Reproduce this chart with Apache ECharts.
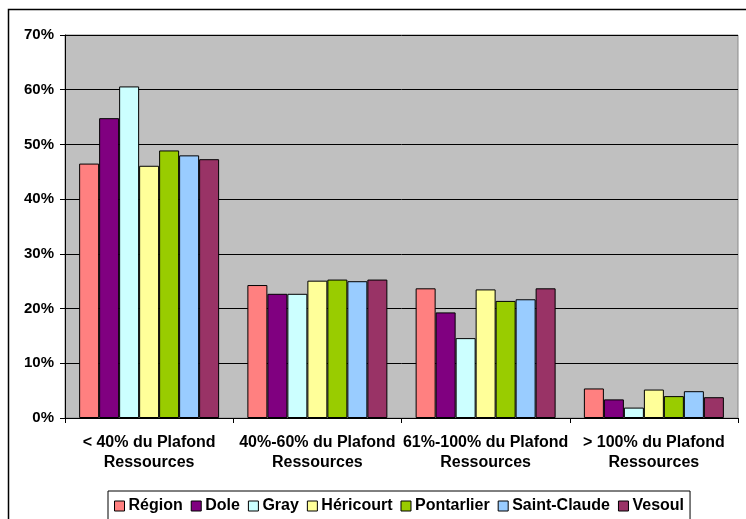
<!DOCTYPE html>
<html>
<head>
<meta charset="utf-8">
<script src="https://cdn.jsdelivr.net/npm/echarts@6/dist/echarts.min.js"></script>
<style>
html,body{margin:0;padding:0;background:#fff;}
#c{width:746px;height:519px;}
</style>
</head>
<body>
<div id="c"></div>
<script>
const categories = ['< 40% du Plafond\nRessources', '40%-60% du Plafond\nRessources', '61%-100% du Plafond\nRessources', '> 100% du Plafond\nRessources'];
const seriesNames = ['Région', 'Dole', 'Gray', 'Héricourt', 'Pontarlier', 'Saint-Claude', 'Vesoul'];
const region      = [46.5, 24.3, 23.7, 5.4];
const dole        = [54.8, 22.7, 19.3, 3.4];
const gray        = [60.6, 22.7, 14.6, 1.9];
const hericourt   = [46.1, 25.1, 23.5, 5.2];
const pontarlier  = [48.9, 25.3, 21.4, 4.0];
const saintClaude = [48.0, 25.0, 21.7, 4.9];
const vesoul      = [47.3, 25.3, 23.7, 3.8];
const yTicks = [0, 10, 20, 30, 40, 50, 60, 70];

const values = [region, dole, gray, hericourt, pontarlier, saintClaude, vesoul];
const colors = ['#FF8080', '#800080', '#CCFFFF', '#FFFF99', '#99CC00', '#99CCFF', '#993366'];
const FONT = "'Liberation Sans', Arial, sans-serif";

const chart = echarts.init(document.getElementById('c'));
chart.setOption({
  animation: false,
  backgroundColor: '#fff',
  graphic: [{
    type: 'rect', silent: true, z: 100,
    shape: {x: 8.5, y: 9.5, width: 800, height: 600},
    style: {fill: 'none', stroke: '#000', lineWidth: 1.5}
  }],
  grid: {
    left: 65, right: 8, top: 35, bottom: 101,
    show: true, backgroundColor: '#C0C0C0', borderColor: '#8a8a8a', borderWidth: 1
  },
  legend: {
    left: 108, top: 491,
    padding: [7, 6, 20, 6],
    itemGap: 8, itemWidth: 10, itemHeight: 10,
    borderColor: '#000', borderWidth: 1,
    icon: 'rect',
    itemStyle: {borderColor: '#000', borderWidth: 1},
    textStyle: {fontFamily: FONT, fontWeight: 'bold', fontSize: 16, color: '#000', padding: [0, 0, 0, -1]},
    data: seriesNames
  },
  xAxis: {
    type: 'category',
    data: categories,
    axisLine: {lineStyle: {color: '#000', width: 1}},
    axisTick: {show: true, length: 5, inside: false, lineStyle: {color: '#000'}},
    axisLabel: {
      fontFamily: FONT, fontWeight: 'bold', fontSize: 16, color: '#000',
      lineHeight: 20, margin: 15, interval: 0
    }
  },
  yAxis: {
    type: 'value',
    min: yTicks[0], max: yTicks[yTicks.length - 1], interval: 10,
    axisLine: {show: true, lineStyle: {color: '#000'}},
    axisTick: {show: true, length: 5, lineStyle: {color: '#000'}},
    splitLine: {show: true, lineStyle: {color: '#000', width: 1}},
    axisLabel: {
      formatter: '{value}%', fontFamily: FONT, fontWeight: 'bold', fontSize: 15, color: '#000', margin: 11
    }
  },
  series: seriesNames.map((name, i) => ({
    name: name,
    type: 'bar',
    data: values[i],
    barGap: '0%',
    barCategoryGap: '16.8%',
    itemStyle: {color: colors[i], borderColor: '#000', borderWidth: 1}
  }))
});
</script>
</body>
</html>
